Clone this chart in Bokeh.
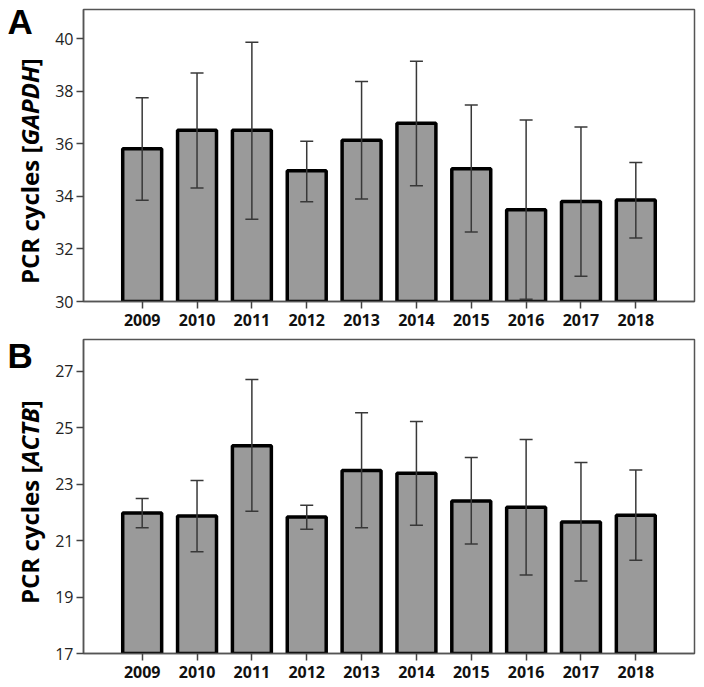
from bokeh.plotting import figure
from bokeh.models import ColumnDataSource, Whisker, TeeHead, Range1d, Div
from bokeh.layouts import column, row
from bokeh.embed import file_html
from bokeh.resources import INLINE

# ---------------- data ----------------
years = [2009, 2010, 2011, 2012, 2013, 2014, 2015, 2016, 2017, 2018]

gapdh_mean = [35.82, 36.52, 36.52, 34.98, 36.14, 36.79, 35.06, 33.49, 33.81, 33.87]
gapdh_upper = [37.76, 38.70, 39.87, 36.10, 38.38, 39.15, 37.48, 36.91, 36.65, 35.29]
gapdh_lower = [33.86, 34.32, 33.13, 33.80, 33.90, 34.41, 32.65, 30.09, 30.96, 32.42]
gapdh_ticks = [30, 32, 34, 36, 38, 40]

actb_mean = [21.98, 21.87, 24.36, 21.83, 23.48, 23.38, 22.40, 22.18, 21.66, 21.90]
actb_upper = [22.49, 23.13, 26.70, 22.25, 25.53, 25.22, 23.94, 24.58, 23.76, 23.50]
actb_lower = [21.45, 20.60, 22.04, 21.40, 21.45, 21.54, 20.88, 19.78, 19.57, 20.30]
actb_ticks = [17, 19, 21, 23, 25, 27]

FONT = "Open Sans"
LETTER_FONT = "Liberation Sans"
LEFT_W = 50          # narrow strip holding panel letter + y-axis title
MAIN_W = 646
BORDER_L, BORDER_R = 33, 2
X_RANGE = (2007.93, 2019.07)


def label_div(letter, gene, height, letter_top, ylabel_bottom):
    html = (
        f'<div style="position:relative;width:{LEFT_W}px;height:{height}px;'
        f'font-family:\'{FONT}\',sans-serif;color:black;">'
        f'<span style="position:absolute;left:7.5px;top:{letter_top}px;'
        f'font-family:\'{LETTER_FONT}\',sans-serif;'
        f'font-size:35px;font-weight:bold;line-height:1;">{letter}</span>'
        f'<span style="position:absolute;left:18.2px;top:{ylabel_bottom}px;'
        f'transform-origin:0 0;transform:rotate(-90deg);white-space:nowrap;'
        f'font-size:24px;font-weight:bold;line-height:1;">'
        f'PCR cycles [<i>{gene}</i>]</span></div>'
    )
    return Div(text=html, width=LEFT_W, height=height, margin=0)


def main_fig(mean, upper, lower, ticks, y_range, height, border_top, border_bottom):
    p = figure(width=MAIN_W, height=height, output_backend="svg",
               toolbar_location=None, tools="",
               x_range=Range1d(*X_RANGE), y_range=Range1d(*y_range),
               min_border_left=BORDER_L, min_border_right=BORDER_R,
               min_border_top=border_top, min_border_bottom=border_bottom)
    p.background_fill_color = "white"
    p.border_fill_color = "white"
    p.outline_line_color = "#555555"
    p.outline_line_width = 1.5
    p.xgrid.visible = False
    p.ygrid.visible = False

    src = ColumnDataSource(dict(x=years, top=mean, upper=upper, lower=lower))
    p.vbar(x="x", top="top", bottom=y_range[0], width=0.71, source=src,
           fill_color="#9a9a9a", line_color="black", line_width=3.5)

    w = Whisker(source=src, base="x", upper="upper", lower="lower",
                line_color="#383838", line_width=1.5, level="overlay",
                upper_head=TeeHead(size=13, line_color="#383838", line_width=1.5),
                lower_head=TeeHead(size=13, line_color="#383838", line_width=1.5))
    p.add_layout(w)

    for ax in (p.xaxis[0], p.yaxis[0]):
        ax.axis_line_color = "#555555"
        ax.axis_line_width = 1.5
        ax.major_tick_line_color = "#444444"
        ax.major_tick_line_width = 1.5
        ax.major_tick_out = 7
        ax.major_tick_in = 0
        ax.minor_tick_line_color = None
        ax.major_label_text_font = FONT
    p.xaxis.ticker = years
    p.xaxis.major_label_text_font_size = "16px"
    p.xaxis.major_label_text_font_style = "bold"
    p.xaxis.major_label_text_color = "#111111"
    p.xaxis.major_label_standoff = 5
    p.yaxis.ticker = ticks
    p.yaxis.major_label_text_font_size = "16px"
    p.yaxis.major_label_text_color = "#222222"
    p.yaxis.major_label_standoff = 3
    return p


H1, H2 = 333, 352
p1 = main_fig(gapdh_mean, gapdh_upper, gapdh_lower, gapdh_ticks, (30, 41.12), H1, 9, 32)
p2 = main_fig(actb_mean, actb_upper, actb_lower, actb_ticks, (17, 28.12), H2, 6, 32)

d1 = label_div("A", "GAPDH", H1, 3.7, 283.5)
d2 = label_div("B", "ACTB", H2, 4.9, 604 - H1)

layout = column(row(d1, p1, spacing=0), row(d2, p2, spacing=0), spacing=0)
open("out.html", "w").write(file_html(layout, INLINE))
